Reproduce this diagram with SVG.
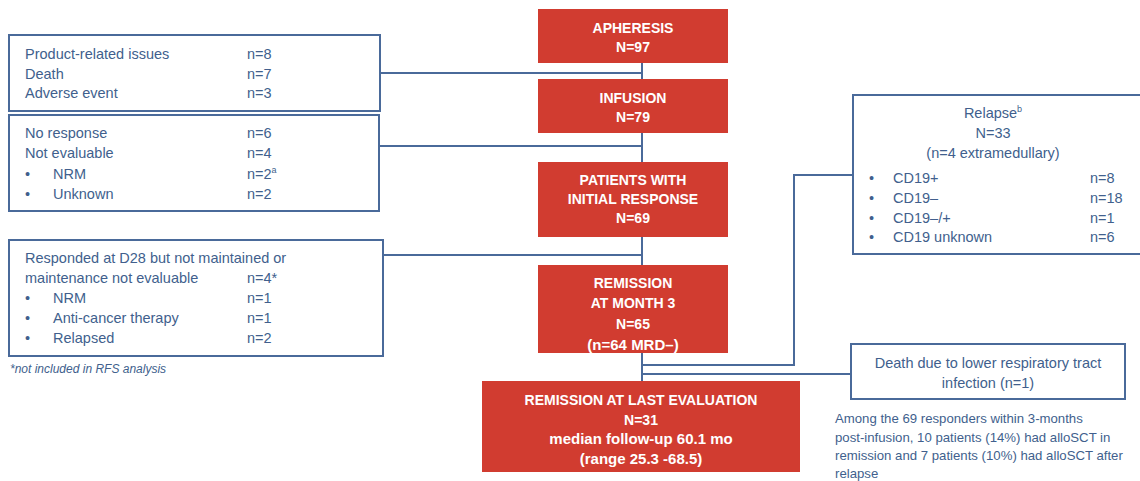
<svg xmlns="http://www.w3.org/2000/svg" width="1140" height="481" viewBox="0 0 1140 481">
<style>
.bg{fill:#ffffff}
.red{fill:#d13c30}
.wbox{fill:#ffffff;stroke:#4a6a9a;stroke-width:2}
.conn{fill:none;stroke:#4a6a9a;stroke-width:2}
.t{font-family:"Liberation Sans",Arial,sans-serif;font-size:14.5px;fill:#415f8d}
.w{font-family:"Liberation Sans",Arial,sans-serif;font-size:14px;fill:#ffffff;text-anchor:middle}
.b{font-weight:bold}
.l{font-size:15px}
.c{text-anchor:middle}
.s{font-size:13.2px}
.fn{font-size:12px;font-style:italic}
</style>
<rect class="bg" x="0" y="0" width="1140" height="481"/>
<g id="connectors">
<path class="conn" d="M380 73 H642"/>
<path class="conn" d="M642 63 V79"/>
<path class="conn" d="M379 146 H642"/>
<path class="conn" d="M642 133 V162"/>
<path class="conn" d="M383 255 H642"/>
<path class="conn" d="M642 237 V265"/>
<path class="conn" d="M642 353 V381"/>
<path class="conn" d="M642 365 H794 V175 H853"/>
<path class="conn" d="M642 374 H851"/>
</g>
<g id="apheresis">
<rect class="red" x="538" y="9" width="190" height="54"/>
<text class="w b" x="633" y="33">APHERESIS</text>
<text class="w b" x="633" y="52">N=97</text>
</g>
<g id="infusion">
<rect class="red" x="538" y="79" width="190" height="54"/>
<text class="w b" x="633" y="103">INFUSION</text>
<text class="w b" x="633" y="122">N=79</text>
</g>
<g id="initial-response">
<rect class="red" x="538" y="162" width="190" height="75"/>
<text class="w b" x="633" y="185">PATIENTS WITH</text>
<text class="w b" x="633" y="204">INITIAL RESPONSE</text>
<text class="w b" x="633" y="223">N=69</text>
</g>
<g id="remission-m3">
<rect class="red" x="538" y="265" width="190" height="88"/>
<text class="w b" x="633" y="288">REMISSION</text>
<text class="w b" x="633" y="308">AT MONTH 3</text>
<text class="w b" x="633" y="329">N=65</text>
<text class="w b l" x="633" y="350">(n=64 MRD–)</text>
</g>
<g id="remission-last">
<rect class="red" x="482" y="381" width="318" height="91"/>
<text class="w b" x="641" y="405">REMISSION AT LAST EVALUATION</text>
<text class="w b" x="641" y="425">N=31</text>
<text class="w b l" x="641" y="444">median follow-up 60.1 mo</text>
<text class="w b l" x="641" y="464">(range 25.3 -68.5)</text>
</g>
<g id="excluded-1">
<rect class="wbox" x="9" y="35" width="371" height="76"/>
<text class="t" x="25" y="59">Product-related issues</text>
<text class="t" x="247" y="59">n=8</text>
<text class="t" x="25" y="79">Death</text>
<text class="t" x="247" y="79">n=7</text>
<text class="t" x="25" y="98">Adverse event</text>
<text class="t" x="247" y="98">n=3</text>
</g>
<g id="excluded-2">
<rect class="wbox" x="9" y="115" width="370" height="96"/>
<text class="t" x="25" y="138">No response</text>
<text class="t" x="247" y="138">n=6</text>
<text class="t" x="25" y="158">Not evaluable</text>
<text class="t" x="247" y="158">n=4</text>
<text class="t" x="25" y="179">•</text>
<text class="t" x="53" y="179">NRM</text>
<text class="t" x="247" y="179">n=2<tspan font-size="9" dy="-6">a</tspan></text>
<text class="t" x="25" y="199">•</text>
<text class="t" x="53" y="199">Unknown</text>
<text class="t" x="247" y="199">n=2</text>
</g>
<g id="excluded-3">
<rect class="wbox" x="9" y="240" width="374" height="116"/>
<text class="t" x="25" y="263">Responded at D28 but not maintained or</text>
<text class="t" x="25" y="283">maintenance not evaluable</text>
<text class="t" x="247" y="283">n=4*</text>
<text class="t" x="25" y="303">•</text>
<text class="t" x="53" y="303">NRM</text>
<text class="t" x="247" y="303">n=1</text>
<text class="t" x="25" y="323">•</text>
<text class="t" x="53" y="323">Anti-cancer therapy</text>
<text class="t" x="247" y="323">n=1</text>
<text class="t" x="25" y="343">•</text>
<text class="t" x="53" y="343">Relapsed</text>
<text class="t" x="247" y="343">n=2</text>
<text class="t fn" x="10" y="373">*not included in RFS analysis</text>
</g>
<g id="relapse">
<rect class="wbox" x="853" y="95" width="290" height="159"/>
<text class="t c" x="993" y="118">Relapse<tspan font-size="9" dy="-6">b</tspan></text>
<text class="t c" x="993" y="138">N=33</text>
<text class="t c" x="993" y="158">(n=4 extramedullary)</text>
<text class="t" x="869" y="183">•</text>
<text class="t" x="893" y="183">CD19+</text>
<text class="t" x="1090" y="183">n=8</text>
<text class="t" x="869" y="203">•</text>
<text class="t" x="893" y="203">CD19–</text>
<text class="t" x="1090" y="203">n=18</text>
<text class="t" x="869" y="223">•</text>
<text class="t" x="893" y="223">CD19–/+</text>
<text class="t" x="1090" y="223">n=1</text>
<text class="t" x="869" y="242">•</text>
<text class="t" x="893" y="242">CD19 unknown</text>
<text class="t" x="1090" y="242">n=6</text>
</g>
<g id="death">
<rect class="wbox" x="851" y="344" width="274" height="55"/>
<text class="t c" x="988" y="368">Death due to lower respiratory tract</text>
<text class="t c" x="988" y="388">infection (n=1)</text>
</g>
<g id="note">
<text class="t s" x="835" y="423">Among the 69 responders within 3-months</text>
<text class="t s" x="835" y="442">post-infusion, 10 patients (14%) had alloSCT in</text>
<text class="t s" x="835" y="460">remission and 7 patients (10%) had alloSCT after</text>
<text class="t s" x="835" y="478">relapse</text>
</g>
</svg>
